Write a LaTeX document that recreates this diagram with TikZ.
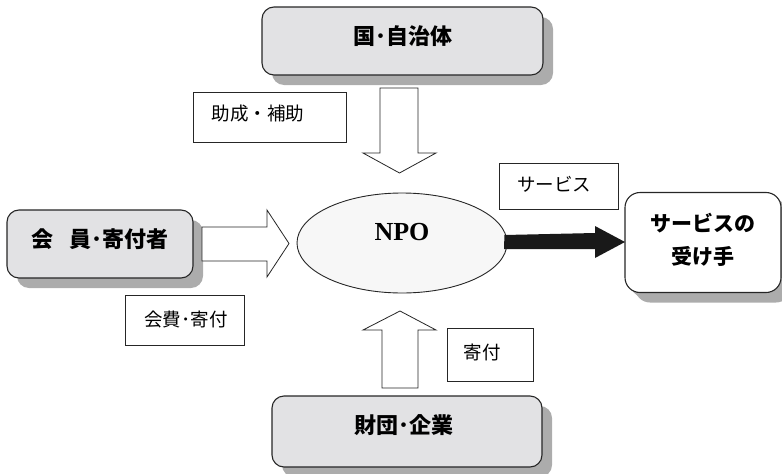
\documentclass[tikz,border=0pt]{standalone}
\usepackage{fontspec}
\setmainfont{Liberation Serif}
\newfontfamily\cjk{Noto Sans CJK JP}
\usetikzlibrary{shapes.geometric,shadows}
\definecolor{boxgray}{HTML}{E2E2E4}
\definecolor{shadowgray}{HTML}{ACACAC}
\definecolor{ovalgray}{HTML}{F7F7F7}
\tikzset{
  mainbox/.style={draw=black!85, line width=1.1pt, fill=boxgray, rounded corners=12pt,
    inner sep=0pt,
    drop shadow={shadow xshift=10pt, shadow yshift=-10pt, fill=shadowgray, opacity=1}},
  boxtext/.style={font=\cjk\bfseries\fontsize{22}{26}\selectfont, inner sep=0pt},
  labelbox/.style={draw=black!85, line width=0.8pt, fill=white, inner sep=0pt},
  labeltext/.style={font=\cjk\fontsize{18.5}{22}\selectfont, inner sep=0pt},
  blockarrow/.style={draw=black!85, line width=0.8pt, fill=white, line join=miter},
}
\begin{document}
\begin{tikzpicture}[x=1pt,y=-1pt]
\useasboundingbox (0,0) rectangle (782,474);

% main boxes
\node[mainbox, minimum width=281pt, minimum height=68pt] (gov) at (402.5,41) {};
\node[boxtext] (govt) at (402.5,36) {国･自治体};

\node[mainbox, minimum width=186pt, minimum height=68pt] (mem) at (100,244) {};
\node[boxtext] (memt) at (100,239) {会\hspace{0.75em}員･寄付者};

\node[mainbox, minimum width=270pt, minimum height=71pt] (fnd) at (407,431.5) {};
\node[boxtext] (fndt) at (404,425) {財団･企業};

\node[mainbox, fill=white, rounded corners=15pt, minimum width=156pt, minimum height=100pt,
  drop shadow={shadow xshift=5pt, shadow yshift=-5pt, fill=shadowgray, opacity=1}] (rcv) at (703,242.5) {};
\node[boxtext, font=\cjk\bfseries\fontsize{21}{25}\selectfont] (rcvt1) at (703,223) {サービスの};
\node[boxtext, font=\cjk\bfseries\fontsize{21}{25}\selectfont] (rcvt2) at (703,256) {受け手};

% NPO ellipse
\node[ellipse, draw=black!85, line width=0.9pt, fill=ovalgray, minimum width=210pt, minimum height=100pt] (npo) at (402,243) {};
\node[font=\bfseries\fontsize{26}{30}\selectfont, inner sep=0pt] (npot) at (402,232) {NPO};

% block arrows
\draw[blockarrow] (380,88) -- (418,88) -- (418,153) -- (436,153) -- (399.5,173) -- (363,153) -- (380,153) -- cycle;
\draw[blockarrow] (382,388) -- (418,388) -- (418,330) -- (436,330) -- (400,311) -- (363,330) -- (382,330) -- cycle;
\draw[blockarrow] (202,227) -- (267,227) -- (267,210) -- (289,243.5) -- (267,277) -- (267,261) -- (202,261) -- cycle;

% black arrow
\fill[black!90] (npo.east) ++(-3,-8) -- (595,233) -- (595,226) -- (625,242) -- (595,258) -- (595,249) -- (504,249) -- cycle;

% labels
\node[labelbox, minimum width=153pt, minimum height=50pt] (lab1) at (269.5,117) {};
\node[labeltext] (lab1t) at (258,114) {助成・補助};
\node[labelbox, minimum width=119pt, minimum height=46pt] (lab2) at (558.5,186) {};
\node[labeltext] (lab2t) at (554,184) {サービス};
\node[labelbox, minimum width=119pt, minimum height=50pt] (lab3) at (184.5,320) {};
\node[labeltext] (lab3t) at (186,319) {会費･寄付};
\node[labelbox, minimum width=86pt, minimum height=53pt] (lab4) at (490,354.5) {};
\node[labeltext] (lab4t) at (482,352) {寄付};
\end{tikzpicture}
\end{document}
